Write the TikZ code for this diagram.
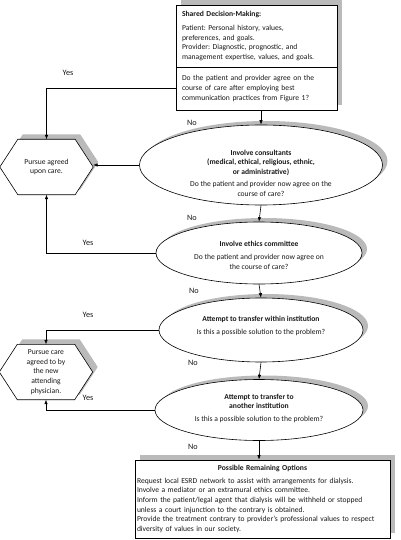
\documentclass[tikz,border=0pt]{standalone}
\usepackage{fontspec}
\setmainfont{Carlito}
\frenchspacing
\usetikzlibrary{arrows.meta,shapes.geometric,shadows}
\begin{document}
\begin{tikzpicture}[x=1pt,y=-1pt,
  every node/.style={font=\fontsize{7.6}{9.6}\selectfont, text=black!90},
  lbl/.style={font=\fontsize{8.2}{10}\selectfont, inner sep=0pt},
  arr/.style={line width=0.6pt, -{Latex[length=4.5pt,width=3.5pt]}},
  con/.style={line width=0.6pt},
  shd/.style={general shadow={shadow xshift=5pt, shadow yshift=5pt, fill=black!27}},
  eshd/.style={general shadow={shadow xshift=5pt, shadow yshift=4pt, fill=black!27}},
  boxst/.style={rectangle, draw, line width=0.6pt, fill=white, inner sep=0pt},
  ell/.style={ellipse, draw, line width=0.6pt, fill=white, inner sep=0pt, eshd},
  txt/.style={inner sep=0pt, align=center},
  hexnode/.style={inner sep=0pt, align=center, minimum width=93pt, minimum height=55pt},
  hexline/.style={draw, line width=0.6pt, fill=white, shd}
]
\useasboundingbox (0,0) rectangle (400,540);

% top box
\node[boxst, shd, minimum width=161pt, minimum height=105pt] (top) at (256.5,57.5) {};
\node[inner sep=0pt, minimum width=161pt, minimum height=62pt, text width=149pt, align=left] (topA) at (256.5,36)
 {\textbf{Shared Decision-Making:}\\[4pt]Patient: Personal history, values,\\preferences, and goals.\\Provider: Diagnostic, prognostic, and\\management expertise, values, and goals.};
\node[inner sep=0pt, minimum width=161pt, minimum height=43pt, text width=149pt, align=left] (topB) at (256.5,88.5)
 {Do the patient and provider agree on the\\course of care after employing best\\communication practices from Figure 1?};
\draw[con] (topA.south west) -- (topA.south east);

% ellipses
\node[ell, minimum width=243pt, minimum height=80pt] (e1) at (261,165) {};
\node[txt] (t1) at (261,173) {\textbf{Involve consultants}\\\textbf{(medical, ethical, religious, ethnic,}\\\textbf{or administrative)}\\[2.5pt]Do the patient and provider now agree on the\\course of care?};

\node[ell, minimum width=206pt, minimum height=62pt] (e2) at (259,253) {};
\node[txt] (t2) at (259,255) {\textbf{Involve ethics committee}\\[4pt]Do the patient and provider now agree on\\the course of care?};

\node[ell, minimum width=204pt, minimum height=64pt] (e3) at (261,330) {};
\node[txt] (t3) at (261,326) {\textbf{Attempt to transfer within institution}\\[4pt]Is this a possible solution to the problem?};

\node[ell, minimum width=208pt, minimum height=61pt] (e4) at (259,410) {};
\node[txt] (t4) at (259,408.5) {\textbf{Attempt to transfer to}\\\textbf{another institution}\\[3.5pt]Is this a possible solution to the problem?};

% bottom box
\node[boxst, shd, minimum width=255pt, minimum height=78pt, text width=251pt, align=left, inner xsep=2pt] (bot) at (262.5,499)
 {\centerline{\textbf{Possible Remaining Options}}\par\vspace{3pt}\noindent Request local ESRD network to assist with arrangements for dialysis.\\Involve a mediator or an extramural ethics committee.\\Inform the patient/legal agent that dialysis will be withheld or stopped\\unless a court injunction to the contrary is obtained.\\Provide the treatment contrary to provider’s professional values to respect\\diversity of values in our society.};

% hexagons
\node[hexnode] (h1) at (46.5,167) {};
\draw[hexline] (h1.west) -- ([xshift=18pt]h1.north west) -- ([xshift=-18pt]h1.north east) -- (h1.east) -- ([xshift=-18pt]h1.south east) -- ([xshift=18pt]h1.south west) -- cycle;
\node[txt] (h1t) at (h1.center) {Pursue agreed\\upon care.};

\node[hexnode] (h2) at (46,372) {};
\draw[hexline] (h2.west) -- ([xshift=18pt]h2.north west) -- ([xshift=-18pt]h2.north east) -- (h2.east) -- ([xshift=-18pt]h2.south east) -- ([xshift=18pt]h2.south west) -- cycle;
\node[txt] (h2t) at (h2.center) {Pursue care\\agreed to by\\the new\\attending\\physician.};

% connectors
\draw[arr] (top.south -| e1.north) -- (e1.north);
\draw[arr] (e1.south) -- (e2.north);
\draw[arr] (e2.south) -- (e3.north);
\draw[arr] (e3.south) -- (e4.north);
\draw[arr] (e4.south) -- (e4.south |- bot.north);
\draw[arr] (topB.west) -| (h1.north);
\draw[arr] (e1.west) -- (e1.west -| h1.east);
\draw[arr] (e2.west) -| (h1.south);
\draw[arr] (e3.west) -| (h2.north);
\draw[arr] (e4.west) -| (h2.south);

% labels
\node[lbl] (n1) at (192,123) {No};
\node[lbl] (n2) at (192,218) {No};
\node[lbl] (n3) at (194,291) {No};
\node[lbl] (n4) at (193,363) {No};
\node[lbl] (n5) at (193,447) {No};
\node[lbl] (y1) at (68,73) {Yes};
\node[lbl] (y2) at (88,243) {Yes};
\node[lbl] (y3) at (88,315) {Yes};
\node[lbl] (y4) at (88,398) {Yes};
\end{tikzpicture}
\end{document}
